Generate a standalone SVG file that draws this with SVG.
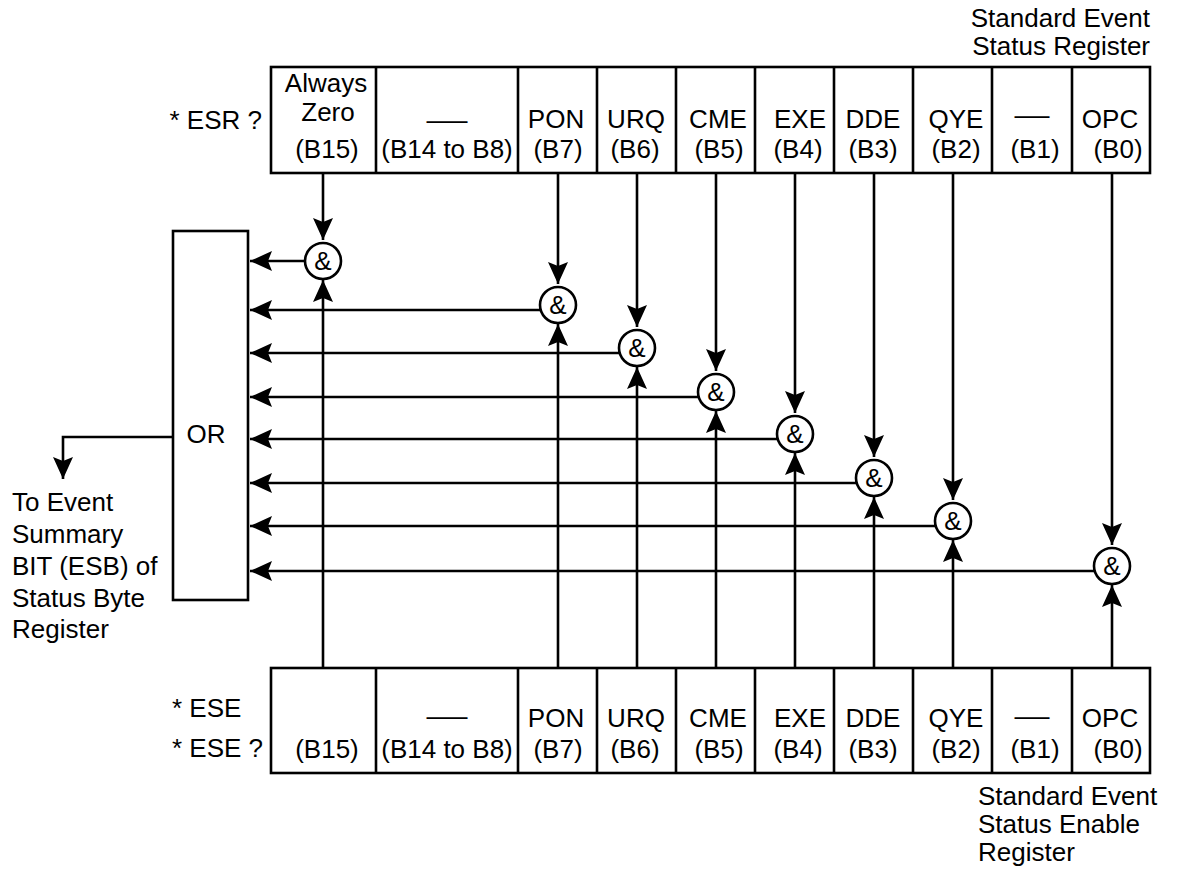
<svg xmlns="http://www.w3.org/2000/svg" width="1178" height="869" viewBox="0 0 1178 869">
<style>
text{font-family:"Liberation Sans",Arial,sans-serif;font-size:26px;fill:#000}
.m{text-anchor:middle}
.e{text-anchor:end}
.box{fill:#fff;stroke:#000;stroke-width:2.6}
.ln{fill:none;stroke:#000;stroke-width:2.6}
.arr{fill:none;stroke:#000;stroke-width:2.6;marker-end:url(#ah)}
.gate{fill:#fff;stroke:#000;stroke-width:2.6}
</style>
<defs>
<marker id="ah" markerUnits="userSpaceOnUse" viewBox="0 0 22 20" refX="22" refY="10" markerWidth="22" markerHeight="20" orient="auto">
<path d="M0,0 L22,10 L0,20 L4,10 Z" fill="#000"/>
</marker>
</defs>
<rect width="1178" height="869" fill="#fff"/>

<g id="labels">
<text x="1150" y="27" class="e">Standard Event</text>
<text x="1150" y="55" class="e">Status Register</text>
<text x="262" y="129" class="e">* ESR ?</text>
<text x="172" y="717">* ESE</text>
<text x="172" y="757">* ESE ?</text>
<text x="978" y="805">Standard Event</text>
<text x="978" y="833">Status Enable</text>
<text x="978" y="861">Register</text>
<text x="12" y="511">To Event</text>
<text x="12" y="543">Summary</text>
<text x="12" y="575">BIT (ESB) of</text>
<text x="12" y="607">Status Byte</text>
<text x="12" y="638">Register</text>
</g>

<g id="ser">
<rect class="box" x="271" y="67" width="879" height="106"/>
<path class="ln" d="M376,67V173M518,67V173M597,67V173M676,67V173M755,67V173M834,67V173M913,67V173M992,67V173M1072,67V173"/>
<text x="326" y="92" class="m">Always</text>
<text x="328" y="121" class="m">Zero</text>
<text x="327" y="158" class="m">(B15)</text>
<text x="447" y="129" class="m" textLength="41" lengthAdjust="spacingAndGlyphs">—</text>
<text x="447" y="158" class="m">(B14 to B8)</text>
<text x="556" y="128" class="m">PON</text><text x="558" y="158" class="m">(B7)</text>
<text x="636" y="128" class="m">URQ</text><text x="635" y="158" class="m">(B6)</text>
<text x="718" y="128" class="m">CME</text><text x="719" y="158" class="m">(B5)</text>
<text x="800" y="128" class="m">EXE</text><text x="798" y="158" class="m">(B4)</text>
<text x="873" y="128" class="m">DDE</text><text x="873" y="158" class="m">(B3)</text>
<text x="956" y="128" class="m">QYE</text><text x="956" y="158" class="m">(B2)</text>
<text x="1032" y="124" class="m" textLength="35" lengthAdjust="spacingAndGlyphs">—</text><text x="1035" y="158" class="m">(B1)</text>
<text x="1110" y="128" class="m">OPC</text><text x="1118" y="158" class="m">(B0)</text>
</g>

<g id="sese">
<rect class="box" x="271" y="668" width="879" height="105"/>
<path class="ln" d="M376,668V773M518,668V773M597,668V773M676,668V773M755,668V773M834,668V773M913,668V773M992,668V773M1072,668V773"/>
<text x="327" y="758" class="m">(B15)</text>
<text x="447" y="725" class="m" textLength="41" lengthAdjust="spacingAndGlyphs">—</text>
<text x="447" y="758" class="m">(B14 to B8)</text>
<text x="556" y="727" class="m">PON</text><text x="558" y="758" class="m">(B7)</text>
<text x="636" y="727" class="m">URQ</text><text x="635" y="758" class="m">(B6)</text>
<text x="718" y="727" class="m">CME</text><text x="719" y="758" class="m">(B5)</text>
<text x="800" y="727" class="m">EXE</text><text x="798" y="758" class="m">(B4)</text>
<text x="873" y="727" class="m">DDE</text><text x="873" y="758" class="m">(B3)</text>
<text x="956" y="727" class="m">QYE</text><text x="956" y="758" class="m">(B2)</text>
<text x="1032" y="725" class="m" textLength="35" lengthAdjust="spacingAndGlyphs">—</text><text x="1035" y="758" class="m">(B1)</text>
<text x="1110" y="727" class="m">OPC</text><text x="1118" y="758" class="m">(B0)</text>
</g>

<g id="or">
<rect class="box" x="173" y="231" width="75" height="369"/>
<text x="206" y="443" class="m">OR</text>
</g>

<g id="connectors">
<path class="arr" d="M323,173V240"/>
<path class="arr" d="M558,173V284"/>
<path class="arr" d="M637,173V327"/>
<path class="arr" d="M716,173V371"/>
<path class="arr" d="M795,173V413"/>
<path class="arr" d="M874,173V457"/>
<path class="arr" d="M953,173V500"/>
<path class="arr" d="M1112,173V545"/>

<path class="arr" d="M323,668V280"/>
<path class="arr" d="M558,668V324"/>
<path class="arr" d="M637,668V367"/>
<path class="arr" d="M716,668V411"/>
<path class="arr" d="M795,668V453"/>
<path class="arr" d="M874,668V497"/>
<path class="arr" d="M953,668V540"/>
<path class="arr" d="M1112,668V585"/>

<path class="arr" d="M305,261H250"/>
<path class="arr" d="M541,310H250"/>
<path class="arr" d="M620,353H250"/>
<path class="arr" d="M699,397H250"/>
<path class="arr" d="M778,439H250"/>
<path class="arr" d="M857,483H250"/>
<path class="arr" d="M936,526H250"/>
<path class="arr" d="M1095,571H250"/>

<path class="arr" d="M173,437H63V479"/>
</g>

<g id="gate-b15"><circle class="gate" cx="323" cy="261" r="18"/><text x="323" y="270" class="m">&amp;</text></g>
<g id="gate-b7"><circle class="gate" cx="558" cy="305" r="18"/><text x="558" y="314" class="m">&amp;</text></g>
<g id="gate-b6"><circle class="gate" cx="637" cy="348" r="18"/><text x="637" y="357" class="m">&amp;</text></g>
<g id="gate-b5"><circle class="gate" cx="716" cy="392" r="18"/><text x="716" y="401" class="m">&amp;</text></g>
<g id="gate-b4"><circle class="gate" cx="795" cy="434" r="18"/><text x="795" y="443" class="m">&amp;</text></g>
<g id="gate-b3"><circle class="gate" cx="874" cy="478" r="18"/><text x="874" y="487" class="m">&amp;</text></g>
<g id="gate-b2"><circle class="gate" cx="953" cy="521" r="18"/><text x="953" y="530" class="m">&amp;</text></g>
<g id="gate-b0"><circle class="gate" cx="1112" cy="566" r="18"/><text x="1112" y="575" class="m">&amp;</text></g>
</svg>
